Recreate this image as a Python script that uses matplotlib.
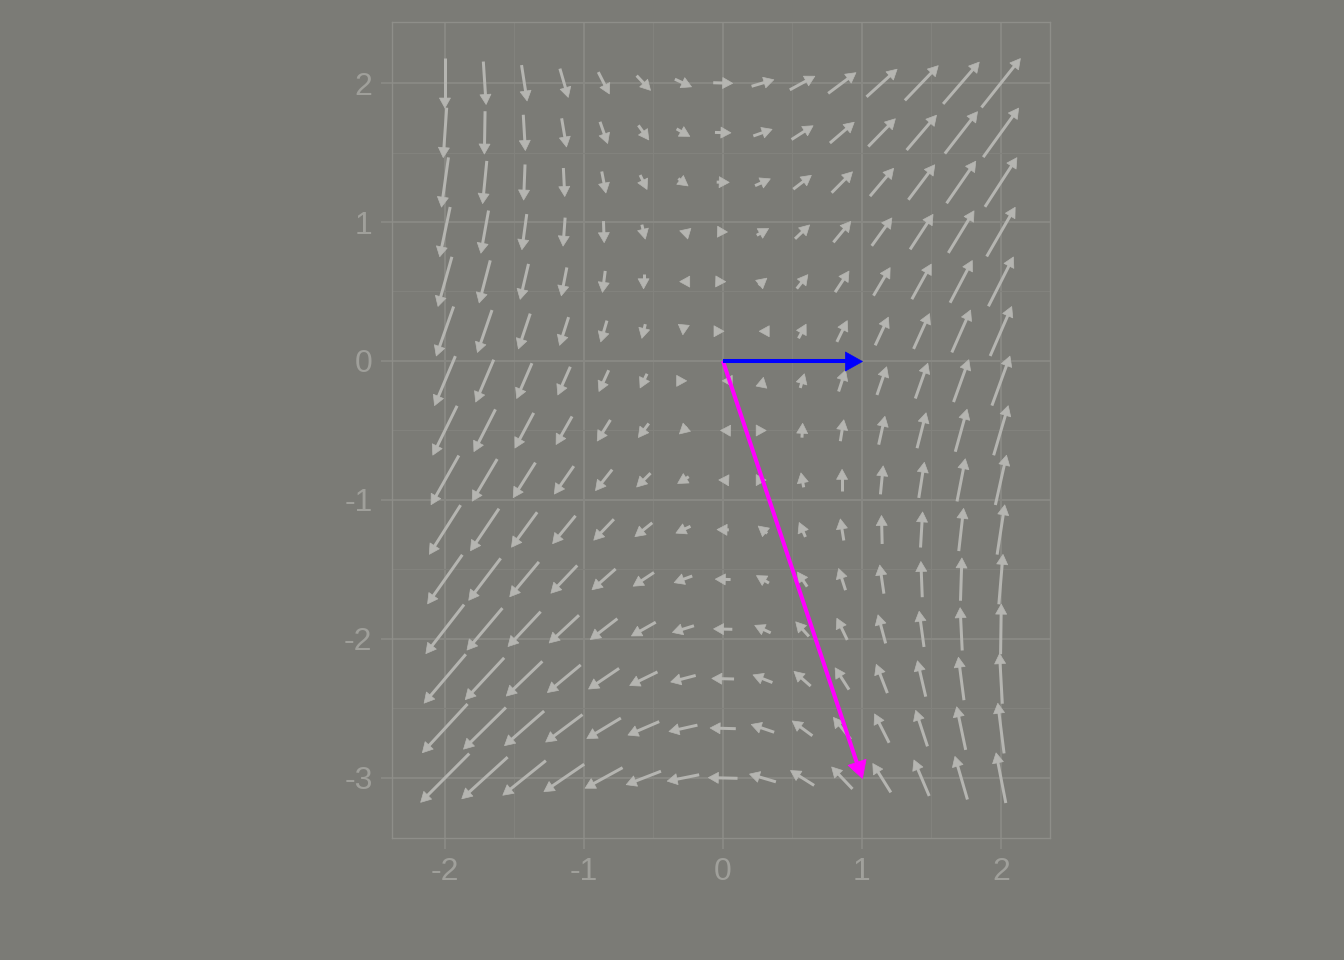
import numpy as np
import matplotlib
matplotlib.use("Agg")
import matplotlib.pyplot as plt
from matplotlib.collections import LineCollection, PolyCollection

# grid of arrow centres (15 x 15)
x_pts = [-2.0, -1.714, -1.429, -1.143, -0.857, -0.571, -0.286, 0.0,
         0.286, 0.571, 0.857, 1.143, 1.429, 1.714, 2.0]
y_pts = [2.0, 1.643, 1.286, 0.929, 0.571, 0.214, -0.143, -0.5,
         -0.857, -1.214, -1.571, -1.929, -2.286, -2.643, -3.0]

# arrow components, one row per y (top to bottom)
u_rows = [
    [0.000, 0.020, 0.040, 0.060, 0.080, 0.100, 0.120, 0.140, 0.160, 0.180, 0.200, 0.220, 0.240, 0.260, 0.280],
    [-0.025, -0.005, 0.015, 0.035, 0.055, 0.075, 0.095, 0.115, 0.135, 0.155, 0.175, 0.195, 0.215, 0.235, 0.255],
    [-0.050, -0.030, -0.010, 0.010, 0.030, 0.050, 0.070, 0.090, 0.110, 0.130, 0.150, 0.170, 0.190, 0.210, 0.230],
    [-0.075, -0.055, -0.035, -0.015, 0.005, 0.025, -0.050, 0.065, 0.085, 0.105, 0.125, 0.145, 0.165, 0.185, 0.205],
    [-0.100, -0.080, -0.060, -0.040, -0.020, 0.000, -0.050, 0.040, 0.060, 0.080, 0.100, 0.120, 0.140, 0.160, 0.180],
    [-0.125, -0.105, -0.085, -0.065, -0.045, -0.025, -0.005, 0.015, -0.050, 0.055, 0.075, 0.095, 0.115, 0.135, 0.155],
    [-0.150, -0.130, -0.110, -0.090, -0.070, -0.050, 0.050, -0.010, 0.010, 0.030, 0.050, 0.070, 0.090, 0.110, 0.130],
    [-0.175, -0.155, -0.135, -0.115, -0.095, -0.075, -0.055, -0.035, 0.050, 0.005, 0.025, 0.045, 0.065, 0.085, 0.105],
    [-0.200, -0.180, -0.160, -0.140, -0.120, -0.100, -0.080, -0.060, 0.050, -0.020, 0.000, 0.020, 0.040, 0.060, 0.080],
    [-0.225, -0.205, -0.185, -0.165, -0.145, -0.125, -0.105, -0.085, -0.065, -0.045, -0.025, -0.005, 0.015, 0.035, 0.055],
    [-0.250, -0.230, -0.210, -0.190, -0.170, -0.150, -0.130, -0.110, -0.090, -0.070, -0.050, -0.030, -0.010, 0.010, 0.030],
    [-0.275, -0.255, -0.235, -0.215, -0.195, -0.175, -0.155, -0.135, -0.115, -0.095, -0.075, -0.055, -0.035, -0.015, 0.005],
    [-0.300, -0.280, -0.260, -0.240, -0.220, -0.200, -0.180, -0.160, -0.140, -0.120, -0.100, -0.080, -0.060, -0.040, -0.020],
    [-0.325, -0.305, -0.285, -0.265, -0.245, -0.225, -0.205, -0.185, -0.165, -0.145, -0.125, -0.105, -0.085, -0.065, -0.045],
    [-0.350, -0.330, -0.310, -0.290, -0.270, -0.250, -0.230, -0.210, -0.190, -0.170, -0.150, -0.130, -0.110, -0.090, -0.070],
]
v_rows = [
    [-0.360, -0.309, -0.258, -0.207, -0.157, -0.106, -0.055, -0.004, 0.047, 0.098, 0.149, 0.199, 0.250, 0.301, 0.352],
    [-0.359, -0.308, -0.257, -0.206, -0.156, -0.105, -0.054, -0.003, 0.048, 0.099, 0.150, 0.200, 0.251, 0.302, 0.353],
    [-0.358, -0.307, -0.256, -0.205, -0.155, -0.104, -0.053, -0.002, 0.049, 0.100, 0.151, 0.201, 0.252, 0.303, 0.354],
    [-0.358, -0.307, -0.256, -0.205, -0.155, -0.104, 0.015, -0.002, 0.049, 0.100, 0.151, 0.201, 0.252, 0.303, 0.354],
    [-0.357, -0.306, -0.255, -0.204, -0.154, -0.103, 0.000, -0.001, 0.050, 0.101, 0.152, 0.202, 0.253, 0.304, 0.355],
    [-0.356, -0.305, -0.254, -0.203, -0.153, -0.102, -0.051, 0.000, 0.000, 0.102, 0.153, 0.203, 0.254, 0.305, 0.356],
    [-0.356, -0.305, -0.254, -0.203, -0.153, -0.102, 0.000, 0.000, 0.051, 0.102, 0.153, 0.203, 0.254, 0.305, 0.356],
    [-0.355, -0.304, -0.253, -0.202, -0.152, -0.101, -0.050, 0.001, 0.000, 0.103, 0.154, 0.204, 0.255, 0.306, 0.357],
    [-0.354, -0.303, -0.252, -0.201, -0.151, -0.100, -0.049, 0.002, 0.000, 0.104, 0.155, 0.205, 0.256, 0.307, 0.358],
    [-0.354, -0.303, -0.252, -0.201, -0.151, -0.100, -0.049, 0.002, 0.053, 0.104, 0.155, 0.205, 0.256, 0.307, 0.358],
    [-0.353, -0.302, -0.251, -0.200, -0.150, -0.099, -0.048, 0.003, 0.054, 0.105, 0.156, 0.206, 0.257, 0.308, 0.359],
    [-0.353, -0.302, -0.251, -0.200, -0.150, -0.099, -0.048, 0.003, 0.054, 0.105, 0.156, 0.206, 0.257, 0.308, 0.359],
    [-0.352, -0.301, -0.250, -0.199, -0.149, -0.098, -0.047, 0.004, 0.055, 0.106, 0.157, 0.207, 0.258, 0.309, 0.360],
    [-0.351, -0.300, -0.249, -0.198, -0.148, -0.097, -0.046, 0.005, 0.056, 0.107, 0.158, 0.208, 0.259, 0.310, 0.361],
    [-0.351, -0.300, -0.249, -0.198, -0.148, -0.097, -0.046, 0.005, 0.056, 0.107, 0.158, 0.208, 0.259, 0.310, 0.361],
]

# basis vector and its image
basis_vec = [1, 0]
image_vec = [1, -3]

x_ticks = [-2, -1, 0, 1, 2]
x_labels = ["-2", "-1", "0", "1", "2"]
y_ticks = [-3, -2, -1, 0, 1, 2]
y_labels = ["-3", "-2", "-1", "0", "1", "2"]

bg = "#7b7b76"
grid_major = "#888883"
grid_minor = "#82827d"
text_col = "#a0a09b"
arrow_col = "#b5b5b1"

plt.rcParams["font.family"] = ["Liberation Sans", "DejaVu Sans"]

fig = plt.figure(figsize=(13.44, 9.6), dpi=100, facecolor=bg)
ax = fig.add_axes([392 / 1344, 122 / 960, 658 / 1344, 816 / 960])
ax.set_facecolor(bg)
ax.set_xlim(-2.381, 2.353)
ax.set_ylim(-3.432, 2.439)

ax.set_xticks(x_ticks)
ax.set_xticklabels(x_labels)
ax.set_yticks(y_ticks)
ax.set_yticklabels(y_labels)
ax.set_xticks([-1.5, -0.5, 0.5, 1.5], minor=True)
ax.set_yticks([-2.5, -1.5, -0.5, 0.5, 1.5], minor=True)
ax.grid(True, which="major", color=grid_major, lw=1.5, zorder=0)
ax.grid(True, which="minor", color=grid_minor, lw=0.8, zorder=0)
ax.set_axisbelow(True)
ax.tick_params(which="major", length=8, width=1.5, color=grid_major,
               labelcolor=text_col, labelsize=23, pad=6)
ax.tick_params(which="minor", length=0)
for s in ax.spines.values():
    s.set_color("#8e8e89")
    s.set_linewidth(1.0)


def arrow_parts(tail, tip, head_len, head_half):
    # shaft and head polygon, built in pixel space so heads keep their shape
    to_px = ax.transData
    to_data = ax.transData.inverted()
    p0, p1 = to_px.transform([tail, tip])
    d = p1 - p0
    L = np.hypot(d[0], d[1])
    if L == 0:
        return None, None
    e = d / L
    n = np.array([-e[1], e[0]])
    base = p1 - head_len * e
    head = to_data.transform([p1, base + head_half * n, base - head_half * n])
    shaft = None
    if L > head_len:
        shaft = to_data.transform([p0, base + 1.0 * e])
    return shaft, head


shafts, heads = [], []
for j, yv in enumerate(y_pts):
    for i, xv in enumerate(x_pts):
        u = u_rows[j][i]
        v = v_rows[j][i]
        s, h = arrow_parts((xv - u / 2, yv - v / 2), (xv + u / 2, yv + v / 2), 10, 5.5)
        if s is not None:
            shafts.append(s)
        if h is not None:
            heads.append(h)

ax.add_collection(LineCollection(shafts, colors=arrow_col, linewidths=2.16,
                                 capstyle="butt", zorder=3))
ax.add_collection(PolyCollection(heads, facecolors=arrow_col, edgecolors=arrow_col,
                                 linewidths=0.5, zorder=3))

for vec, col in [(image_vec, "#ff00ff"), (basis_vec, "#0000ff")]:
    s, h = arrow_parts((0, 0), (vec[0], vec[1]), 17, 9.5)
    ax.add_collection(LineCollection([s], colors=col, linewidths=2.9,
                                     capstyle="butt", zorder=5))
    ax.add_collection(PolyCollection([h], facecolors=col, edgecolors=col,
                                     linewidths=0.5, zorder=5))

fig.savefig("out.png", dpi=100, facecolor=bg)
